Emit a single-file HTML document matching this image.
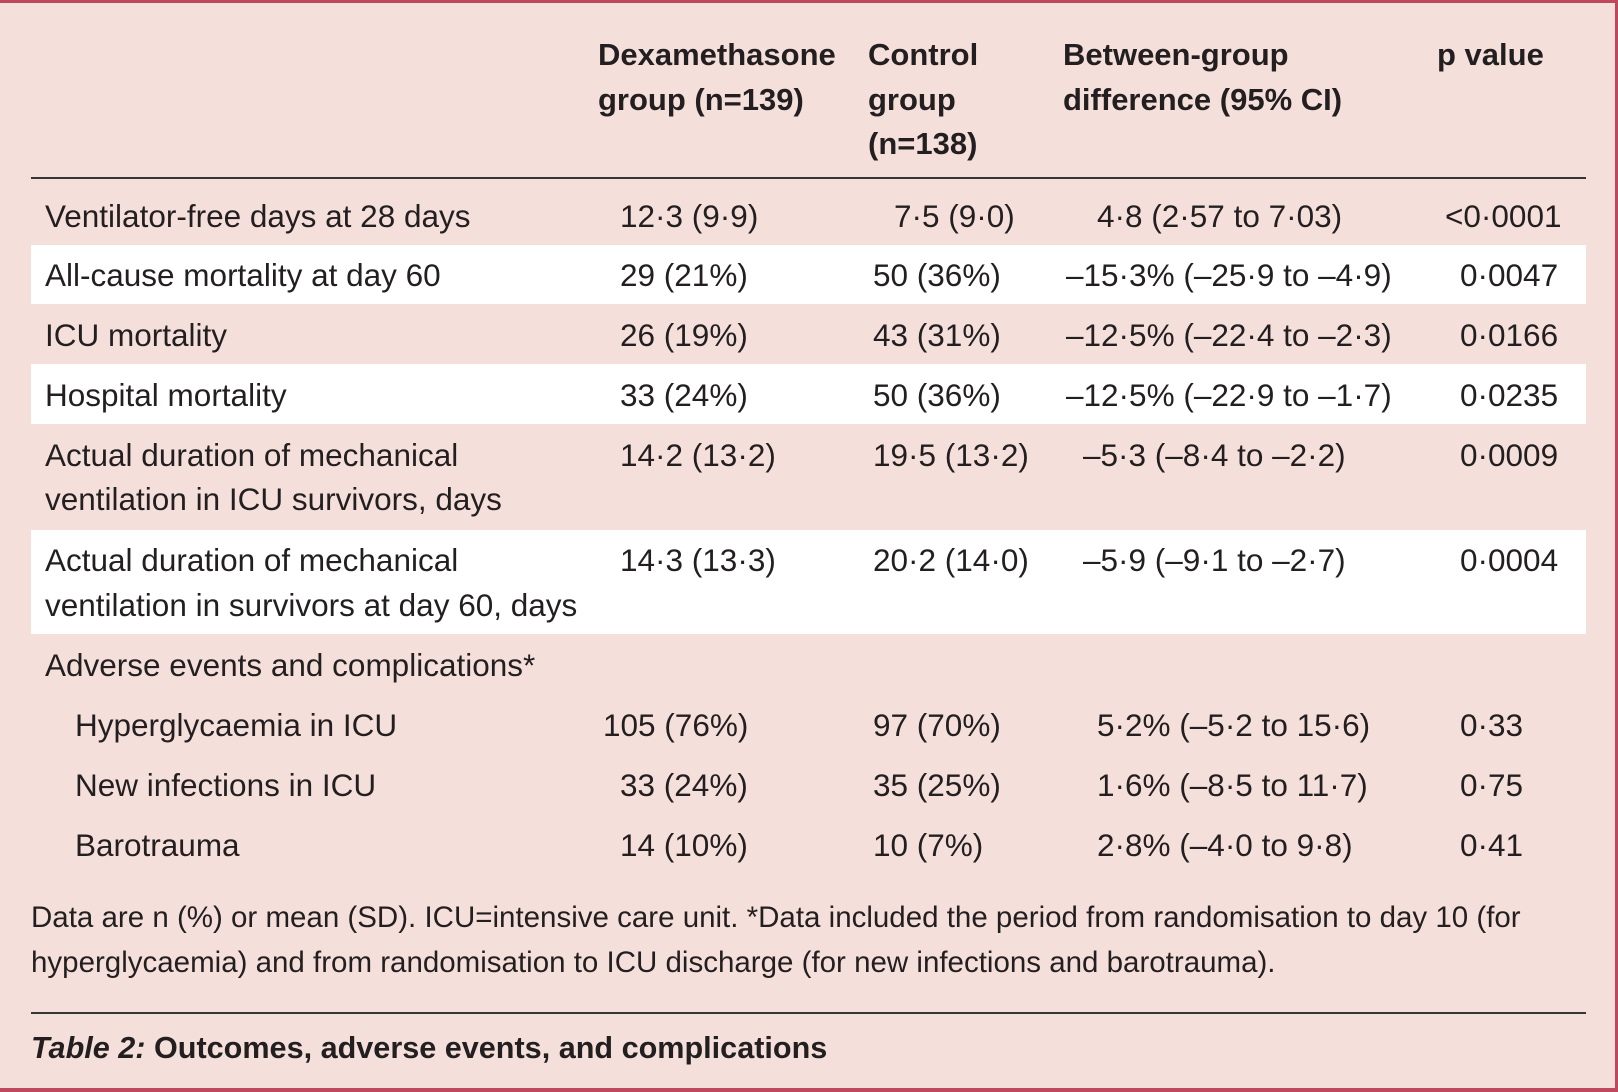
<!DOCTYPE html>
<html><head><meta charset="utf-8"><style>
body{margin:0;}
#c{position:relative;width:1618px;height:1092px;background:#f5dfdb;overflow:hidden;font-family:"Liberation Sans",sans-serif;color:#231f20;}
.t{position:absolute;font-size:31.5px;line-height:36px;white-space:nowrap;}
.b{font-weight:bold;font-size:31px;}
.w{position:absolute;left:31px;width:1555px;background:#fff;}
.r{position:absolute;left:31px;width:1555px;height:2px;background:#3a3535;}
</style></head><body><div id="c">
<div style="position:absolute;left:0;top:0;width:1618px;height:3px;background:#c0485e"></div>
<div style="position:absolute;left:0;top:1088px;width:1618px;height:4px;background:#c0485e"></div>
<div style="position:absolute;left:1615px;top:0;width:3px;height:1092px;background:#c0485e"></div>

<div class="w" style="top:245px;height:59px"></div>
<div class="w" style="top:364px;height:60px"></div>
<div class="w" style="top:530px;height:104px"></div>
<div class="r" style="top:177px"></div>
<div class="r" style="top:1012px"></div>

<div class="t b" style="left:598px;top:37px">Dexamethasone</div>
<div class="t b" style="left:598px;top:82px">group (n=139)</div>
<div class="t b" style="left:868px;top:37px">Control</div>
<div class="t b" style="left:868px;top:82px">group</div>
<div class="t b" style="left:868px;top:126px">(n=138)</div>
<div class="t b" style="left:1063px;top:37px">Between-group</div>
<div class="t b" style="left:1063px;top:82px">difference (95% CI)</div>
<div class="t b" style="left:1437px;top:37px">p value</div>

<div class="t" style="left:45px;top:198px">Ventilator-free days at 28 days</div>
<div class="t" style="left:620px;top:198px">12·3 (9·9)</div>
<div class="t" style="left:894px;top:198px">7·5 (9·0)</div>
<div class="t" style="left:1097px;top:198px">4·8 (2·57 to 7·03)</div>
<div class="t" style="left:1445px;top:198px">&lt;0·0001</div>

<div class="t" style="left:45px;top:257px">All-cause mortality at day 60</div>
<div class="t" style="left:620px;top:257px">29 (21%)</div>
<div class="t" style="left:873px;top:257px">50 (36%)</div>
<div class="t" style="left:1066px;top:257px">–15·3% (–25·9 to –4·9)</div>
<div class="t" style="left:1460px;top:257px">0·0047</div>

<div class="t" style="left:45px;top:317px">ICU mortality</div>
<div class="t" style="left:620px;top:317px">26 (19%)</div>
<div class="t" style="left:873px;top:317px">43 (31%)</div>
<div class="t" style="left:1066px;top:317px">–12·5% (–22·4 to –2·3)</div>
<div class="t" style="left:1460px;top:317px">0·0166</div>

<div class="t" style="left:45px;top:377px">Hospital mortality</div>
<div class="t" style="left:620px;top:377px">33 (24%)</div>
<div class="t" style="left:873px;top:377px">50 (36%)</div>
<div class="t" style="left:1066px;top:377px">–12·5% (–22·9 to –1·7)</div>
<div class="t" style="left:1460px;top:377px">0·0235</div>

<div class="t" style="left:45px;top:437px">Actual duration of mechanical</div>
<div class="t" style="left:45px;top:481px">ventilation in ICU survivors, days</div>
<div class="t" style="left:620px;top:437px">14·2 (13·2)</div>
<div class="t" style="left:873px;top:437px">19·5 (13·2)</div>
<div class="t" style="left:1083px;top:437px">–5·3 (–8·4 to –2·2)</div>
<div class="t" style="left:1460px;top:437px">0·0009</div>

<div class="t" style="left:45px;top:542px">Actual duration of mechanical</div>
<div class="t" style="left:45px;top:587px">ventilation in survivors at day 60, days</div>
<div class="t" style="left:620px;top:542px">14·3 (13·3)</div>
<div class="t" style="left:873px;top:542px">20·2 (14·0)</div>
<div class="t" style="left:1083px;top:542px">–5·9 (–9·1 to –2·7)</div>
<div class="t" style="left:1460px;top:542px">0·0004</div>

<div class="t" style="left:45px;top:647px">Adverse events and complications*</div>

<div class="t" style="left:75px;top:707px">Hyperglycaemia in ICU</div>
<div class="t" style="left:603px;top:707px">105 (76%)</div>
<div class="t" style="left:873px;top:707px">97 (70%)</div>
<div class="t" style="left:1097px;top:707px">5·2% (–5·2 to 15·6)</div>
<div class="t" style="left:1460px;top:707px">0·33</div>

<div class="t" style="left:75px;top:767px">New infections in ICU</div>
<div class="t" style="left:620px;top:767px">33 (24%)</div>
<div class="t" style="left:873px;top:767px">35 (25%)</div>
<div class="t" style="left:1097px;top:767px">1·6% (–8·5 to 11·7)</div>
<div class="t" style="left:1460px;top:767px">0·75</div>

<div class="t" style="left:75px;top:827px">Barotrauma</div>
<div class="t" style="left:620px;top:827px">14 (10%)</div>
<div class="t" style="left:873px;top:827px">10 (7%)</div>
<div class="t" style="left:1097px;top:827px">2·8% (–4·0 to 9·8)</div>
<div class="t" style="left:1460px;top:827px">0·41</div>

<div class="t" style="left:31px;top:900px;font-size:29.5px">Data are n (%) or mean (SD). ICU=intensive care unit. *Data included the period from randomisation to day 10 (for</div>
<div class="t" style="left:31px;top:945px;font-size:29.5px">hyperglycaemia) and from randomisation to ICU discharge (for new infections and barotrauma).</div>
<div class="t b" style="left:31px;top:1030px;font-size:30.6px"><i>Table 2:</i> Outcomes, adverse events, and complications</div>
</div></body></html>
